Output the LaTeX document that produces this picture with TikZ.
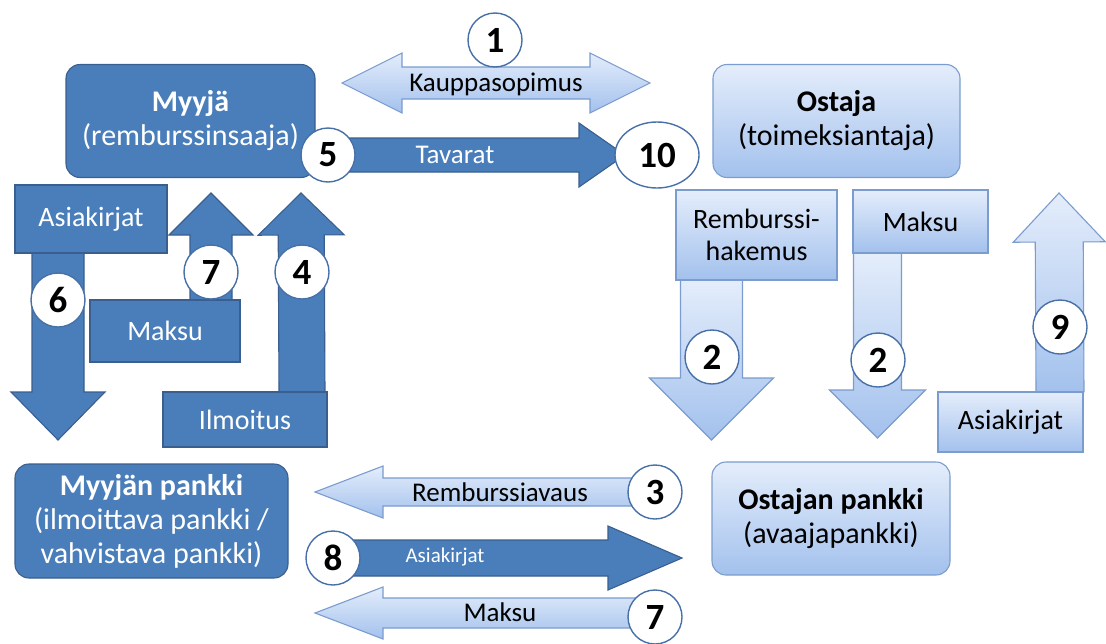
\documentclass[tikz,border=0pt]{standalone}
\usepackage{fontspec}
\setmainfont{Carlito}
\usetikzlibrary{calc,shapes.geometric}

\definecolor{darkfill}{RGB}{74,126,187}
\definecolor{darkline}{RGB}{58,95,142}
\definecolor{lighttop}{RGB}{228,237,251}
\definecolor{lightbot}{RGB}{163,193,237}
\definecolor{lightline}{RGB}{122,156,206}
\definecolor{ringline}{RGB}{72,112,168}

% block arrow: [style]{start}{tip}{shaft half width}{head half width}{head length}
\newcommand\blockarrow[6][]{%
  \coordinate (ba-h) at ($(#3)!#6!(#2)$);
  \path[#1] ($(#2)!#4!90:(#3)$) -- ($(ba-h)!#4!90:(#3)$) -- ($(ba-h)!#5!90:(#3)$)
    -- (#3) -- ($(ba-h)!#5!-90:(#3)$) -- ($(ba-h)!#4!-90:(#3)$) -- ($(#2)!#4!-90:(#3)$) -- cycle;
}

\begin{document}
\begin{tikzpicture}[x=1pt, y=-1pt,
darkbox/.style={rectangle, draw=darkline, fill=darkfill, line width=1.1pt, text=white, align=center, inner sep=0pt, font=\fontsize{28}{32}\selectfont},
lightbox/.style={rectangle, draw=lightline, top color=lighttop, bottom color=lightbot, line width=1.1pt, text=black, align=center, inner sep=0pt, font=\fontsize{28}{32}\selectfont},
roundbox/.style={rounded corners=14pt, font=\fontsize{30}{34}\selectfont},
darkarrow/.style={draw=darkline, fill=darkfill, line width=1.1pt},
lightarrow/.style={draw=lightline, top color=lighttop, bottom color=lightbot, line width=1.1pt},
numring/.style={circle, draw=ringline, fill=white, line width=1.4pt, minimum size=54pt, inner sep=0pt, font=\fontsize{37}{37}\selectfont\bfseries},
label/.style={inner sep=0pt, font=\fontsize{27}{33}\selectfont}
]
\useasboundingbox (0,0) rectangle (1106,643);

%Coordinates for the big arrows
\coordinate (kpL)  at (342,83);
\coordinate (kpR)  at (650,83);
\coordinate (t5)   at (328,155);
\coordinate (t10)  at (625,155);
\coordinate (a6s)  at (58,253);
\coordinate (a6e)  at (58,440);
\coordinate (a7s)  at (211,300);
\coordinate (a7e)  at (211,193);
\coordinate (a4s)  at (302,392);
\coordinate (a4e)  at (301,193);
\coordinate (a2as) at (711.5,280);
\coordinate (a2ae) at (711.5,440);
\coordinate (a2bs) at (877.5,253);
\coordinate (a2be) at (877.5,438);
\coordinate (a9s)  at (1060,392);
\coordinate (a9e)  at (1059,193);
\coordinate (r3s)  at (655,492);
\coordinate (r3e)  at (315,492);
\coordinate (d8s)  at (333,558);
\coordinate (d8e)  at (682,558);
\coordinate (m7s)  at (655,613);
\coordinate (m7e)  at (315,613);

%Arrows
\path[lightarrow] (kpL) -- ++(60,-30) -- ++(0,14) -- ($(kpR)+(-60,-16)$) -- ++(0,-14) -- (kpR)
  -- ++(-60,30) -- ++(0,-14) -- ($(kpL)+(60,16)$) -- ++(0,14) -- cycle;
\blockarrow[darkarrow]{t5}{t10}{17pt}{32pt}{46pt}
\blockarrow[darkarrow]{a6s}{a6e}{26pt}{47pt}{48pt}
\blockarrow[darkarrow]{a7s}{a7e}{21pt}{42pt}{42pt}
\blockarrow[darkarrow]{a4s}{a4e}{23pt}{43pt}{42pt}
\blockarrow[lightarrow]{a2as}{a2ae}{31pt}{62pt}{62pt}
\blockarrow[lightarrow]{a2bs}{a2be}{24pt}{48pt}{48pt}
\blockarrow[lightarrow]{a9s}{a9e}{24pt}{46pt}{49pt}
\blockarrow[lightarrow]{r3s}{r3e}{14pt}{26pt}{68pt}
\blockarrow[darkarrow]{d8s}{d8e}{18pt}{32pt}{74pt}
\blockarrow[lightarrow]{m7s}{m7e}{15pt}{26pt}{68pt}

%Nodes
\node[darkbox, roundbox, minimum width=249pt, minimum height=113pt]  (seller) at (190.5,121)  {\textbf{Myyjä}\\(remburssinsaaja)};
\node[lightbox, roundbox, minimum width=247pt, minimum height=113pt] (buyer)  at (836.5,121)  {\textbf{Ostaja}\\(toimeksiantaja)};
\node[darkbox, roundbox, minimum width=273pt, minimum height=114pt]  (sbank)  at (151.5,521)  {\textbf{Myyjän pankki}\\(ilmoittava pankki /\\vahvistava pankki)};
\node[lightbox, roundbox, minimum width=238pt, minimum height=113pt] (bbank)  at (831,518.5)  {\textbf{Ostajan pankki}\\(avaajapankki)};

\node[darkbox, minimum width=152pt, minimum height=68pt]  (docsL)  at (91,219)      {Asiakirjat};
\node[darkbox, minimum width=150pt, minimum height=62pt]  (payL)   at (165,331)     {Maksu};
\node[darkbox, minimum width=164pt, minimum height=55pt]  (notice) at (245,419.5)   {Ilmoitus};
\node[lightbox, minimum width=161pt, minimum height=90pt] (appl)   at (756.5,235)   {Remburssi-\\hakemus};
\node[lightbox, minimum width=135pt, minimum height=63pt] (payR)   at (920.5,221.5) {Maksu};
\node[lightbox, minimum width=145pt, minimum height=60pt] (docsR)  at (1010.5,422)  {Asiakirjat};

%Arrow labels
\node[label]              (lkp)  at (496,84)  {Kauppasopimus};
\node[label, text=white]  (ltav) at (455,155) {Tavarat};
\node[label]              (lrem) at (500,492) {Remburssiavaus};
\node[label, text=white, font=\fontsize{21}{25}\selectfont] (ldoc) at (445,557) {Asiakirjat};
\node[label]              (lmak) at (500,612) {Maksu};

%Numbers
\node[numring] (n1)  at (495,40)  {1};
\node[numring] (n5)  at (t5)      {5};
\node[numring, ellipse, minimum width=84pt, minimum height=66pt] (n10) at (657,155) {10};
\node[numring] (n6)  at (58,300)  {6};
\node[numring] (n7a) at (211,272) {7};
\node[numring] (n4)  at (302,272) {4};
\node[numring] (n2a) at (712,357) {2};
\node[numring] (n2b) at (878,360) {2};
\node[numring] (n9)  at (1060,327) {9};
\node[numring] (n3)  at (r3s)     {3};
\node[numring] (n8)  at (d8s)     {8};
\node[numring] (n7b) at (655,617) {7};
\end{tikzpicture}
\end{document}
